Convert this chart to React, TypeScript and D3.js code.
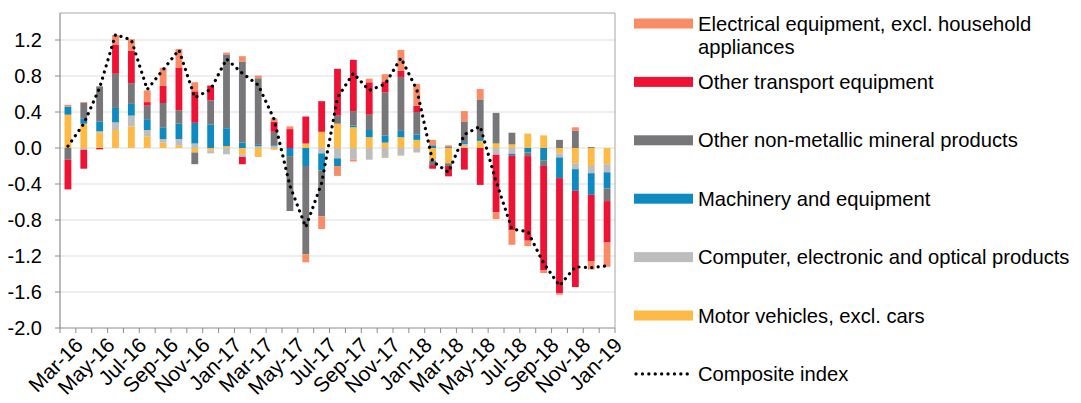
import { scaleBand, scaleLinear, stack, stackOffsetDiverging, line } from "d3";

// months shown on the x axis
const months = [
  "Mar-16", "Apr-16", "May-16", "Jun-16", "Jul-16", "Aug-16", "Sep-16", "Oct-16", "Nov-16", "Dec-16",
  "Jan-17", "Feb-17", "Mar-17", "Apr-17", "May-17", "Jun-17", "Jul-17", "Aug-17", "Sep-17", "Oct-17",
  "Nov-17", "Dec-17", "Jan-18", "Feb-18", "Mar-18", "Apr-18", "May-18", "Jun-18", "Jul-18", "Aug-18",
  "Sep-18", "Oct-18", "Nov-18", "Dec-18", "Jan-19",
];

// contributions, stacked in this order from zero outwards
const motorVehicles = [
  0.37, 0.27, 0.17, 0.2, 0.24, 0.13, 0.06, 0.03, -0.05, -0.03,
  0.02, -0.07, -0.1, -0.02, 0.0, 0.05, 0.18, 0.27, 0.23, 0.12,
  0.06, 0.12, 0.09, -0.13, -0.17, 0.02, 0.08, 0.05, 0.04, 0.16,
  0.14, -0.06, -0.17, -0.2, -0.18,
];
const computer = [
  0.0, -0.02, 0.015, 0.085, 0.12, 0.07, 0.04, 0.07, 0.05, -0.03,
  -0.07, -0.03, 0.02, 0.02, 0.0, 0.0, -0.06, -0.115, -0.13, -0.13,
  -0.11, -0.085, -0.05, -0.01, 0.0, 0.025, 0.0, -0.075, -0.065, 0.0,
  0.0, -0.045, -0.065, -0.08, -0.09,
];
const machinery = [
  0.09, 0.06, 0.11, 0.16, 0.13, 0.12, 0.13, 0.17, 0.23, 0.26,
  0.2, 0.06, 0.015, 0.01, -0.09, -0.2, -0.19, -0.085, 0.02, 0.08,
  0.08, 0.07, 0.06, 0.03, 0.01, 0.02, 0.03, 0.0, -0.02, -0.05,
  -0.14, -0.23, -0.24, -0.24, -0.18,
];
const nonMetallic = [
  -0.13, 0.17, 0.39, 0.38, 0.23, 0.15, 0.27, 0.15, -0.13, 0.27,
  0.82, 0.9, 0.74, 0.15, -0.61, -0.98, -0.51, 0.09, 0.16, 0.17,
  0.48, 0.6, 0.25, -0.05, -0.03, 0.23, 0.43, 0.34, 0.13, -0.04,
  -0.06, 0.09, 0.19, 0.01, -0.14,
];
const otherTransport = [
  -0.33, -0.21, -0.015, 0.32, 0.36, 0.04, 0.19, 0.47, 0.35, 0.16,
  0.0, -0.08, 0.0, 0.11, 0.21, 0.3, 0.34, 0.52, 0.57, 0.36,
  0.12, 0.07, 0.07, -0.04, -0.115, -0.24, -0.41, -0.64, -0.83, -0.94,
  -1.16, -1.28, -1.07, -0.74, -0.46,
];
const electrical = [
  0.02, 0.01, 0.0, 0.11, 0.13, 0.13, 0.2, 0.21, 0.1, 0.01,
  0.02, 0.06, 0.03, 0.04, 0.03, -0.09, -0.14, -0.11, -0.02, 0.04,
  0.08, 0.23, 0.24, 0.06, 0.02, 0.115, 0.115, -0.075, -0.16, -0.06,
  -0.03, -0.015, 0.04, -0.09, -0.27,
];
const composite = [
  0.02, 0.27, 0.67, 1.26, 1.2, 0.65, 0.87, 1.09, 0.56, 0.65,
  0.99, 0.83, 0.7, 0.32, -0.42, -0.88, -0.39, 0.56, 0.83, 0.64,
  0.71, 1.0, 0.65, -0.15, -0.27, 0.15, 0.24, -0.37, -0.9, -0.93,
  -1.28, -1.53, -1.32, -1.33, -1.31,
];

const yTicks = [-2.0, -1.6, -1.2, -0.8, -0.4, 0.0, 0.4, 0.8, 1.2];

const series = [
  { key: "motor", name: "Motor vehicles, excl. cars", values: motorVehicles, color: "#FDBA45" },
  { key: "computer", name: "Computer, electronic and optical products", values: computer, color: "#BDBDBD" },
  { key: "machinery", name: "Machinery and equipment", values: machinery, color: "#0D8BC0" },
  { key: "nonmetal", name: "Other non-metallic mineral products", values: nonMetallic, color: "#77777A" },
  { key: "transport", name: "Other transport equipment", values: otherTransport, color: "#EE1235" },
  { key: "electrical", name: "Electrical equipment, excl. household appliances", values: electrical, color: "#F98B65" },
];

const W = 1081;
const H = 403;
const left = 60;
const right = 615;
const top = 13;
const bottom = 328;
const font = "'Liberation Sans', Arial, sans-serif";

export default function App() {
  const x = scaleBand<string>().domain(months).range([left, right]).paddingInner(0.57).paddingOuter(0.285);
  const band = scaleBand<string>().domain(months).range([left, right]);
  const y = scaleLinear().domain([-2.0, 1.5]).range([bottom, top]);

  const rows = months.map((m, i) => {
    const r: Record<string, any> = { month: m };
    series.forEach((s) => (r[s.key] = s.values[i]));
    return r;
  });
  const stacked = stack<any>().keys(series.map((s) => s.key)).offset(stackOffsetDiverging)(rows);

  const path = line<number>()
    .x((_, i) => band(months[i])! + band.bandwidth() / 2)
    .y((d) => y(d))(composite);

  // legend, listed top to bottom in reverse stacking order
  const legend = [...series].reverse();
  const legendY = (i: number) => 23.5 + i * 58.4;

  return (
    <svg width={W} height={H} style={{ position: "absolute", left: 0, top: 0 }} fontFamily={font}>
      <rect width={W} height={H} fill="#fff" />
      {yTicks.slice(1).map((t) => (
        <line key={t} x1={left} x2={right} y1={y(t)} y2={y(t)} stroke="#E9E9E9" strokeWidth={1.5} />
      ))}
      {stacked.map((layer, si) => (
        <g key={layer.key} fill={series[si].color}>
          {layer.map((d, i) => {
            const y0 = y(d[0]);
            const y1 = y(d[1]);
            if (Math.abs(y0 - y1) < 0.01) return null;
            return (
              <rect key={i} x={x(months[i])} width={x.bandwidth()} y={Math.min(y0, y1)} height={Math.abs(y0 - y1)} />
            );
          })}
        </g>
      ))}
      <path d={path!} fill="none" stroke="#000" strokeWidth={3.2} strokeDasharray="0.1 6.3" strokeLinecap="round" />
      {/* frame */}
      <line x1={left} x2={right} y1={top} y2={top} stroke="#A6A6A6" />
      <line x1={right} x2={right} y1={top} y2={bottom} stroke="#A6A6A6" />
      <line x1={left} x2={left} y1={top} y2={bottom} stroke="#8C8C8C" strokeWidth={1.2} />
      <line x1={left} x2={right} y1={bottom} y2={bottom} stroke="#8C8C8C" strokeWidth={1.2} />
      {yTicks.map((t) => (
        <g key={t}>
          <line x1={left - 5} x2={left} y1={y(t)} y2={y(t)} stroke="#8C8C8C" />
          <text x={42} y={y(t)} dy="0.35em" textAnchor="end" fontSize={20} fill="#000">
            {t.toFixed(1)}
          </text>
        </g>
      ))}
      {months.concat([""]).map((m, i) => {
        const xx = left + i * band.step();
        return <line key={i} x1={xx} x2={xx} y1={bottom} y2={bottom + 5} stroke="#8C8C8C" />;
      })}
      {months.map((m, i) =>
        i % 2 === 0 ? (
          <text
            key={m}
            transform={`translate(${band(m)! + band.bandwidth() / 2 + 6},${bottom + 8}) rotate(-45)`}
            textAnchor="end"
            fontSize={21}
            dy="0.7em"
            fill="#000"
          >
            {m}
          </text>
        ) : null
      )}
      {legend.map((s, i) => (
        <g key={s.key}>
          <rect x={634} y={legendY(i) - 5} width={59} height={10} fill={s.color} />
          {s.key === "electrical" ? (
            <text x={698} y={legendY(i)} dy="0.35em" fontSize={20.2}>
              <tspan x={698}>Electrical equipment, excl. household</tspan>
              <tspan x={698} dy="1.14em">appliances</tspan>
            </text>
          ) : (
            <text x={698} y={legendY(i)} dy="0.35em" fontSize={20.2}>
              {s.name}
            </text>
          )}
        </g>
      ))}
      <line x1={636} x2={692} y1={legendY(6)} y2={legendY(6)} stroke="#000" strokeWidth={3.2} strokeDasharray="0.1 6.3" strokeLinecap="round" />
      <text x={698} y={legendY(6)} dy="0.35em" fontSize={20.2}>
        Composite index
      </text>
    </svg>
  );
}
